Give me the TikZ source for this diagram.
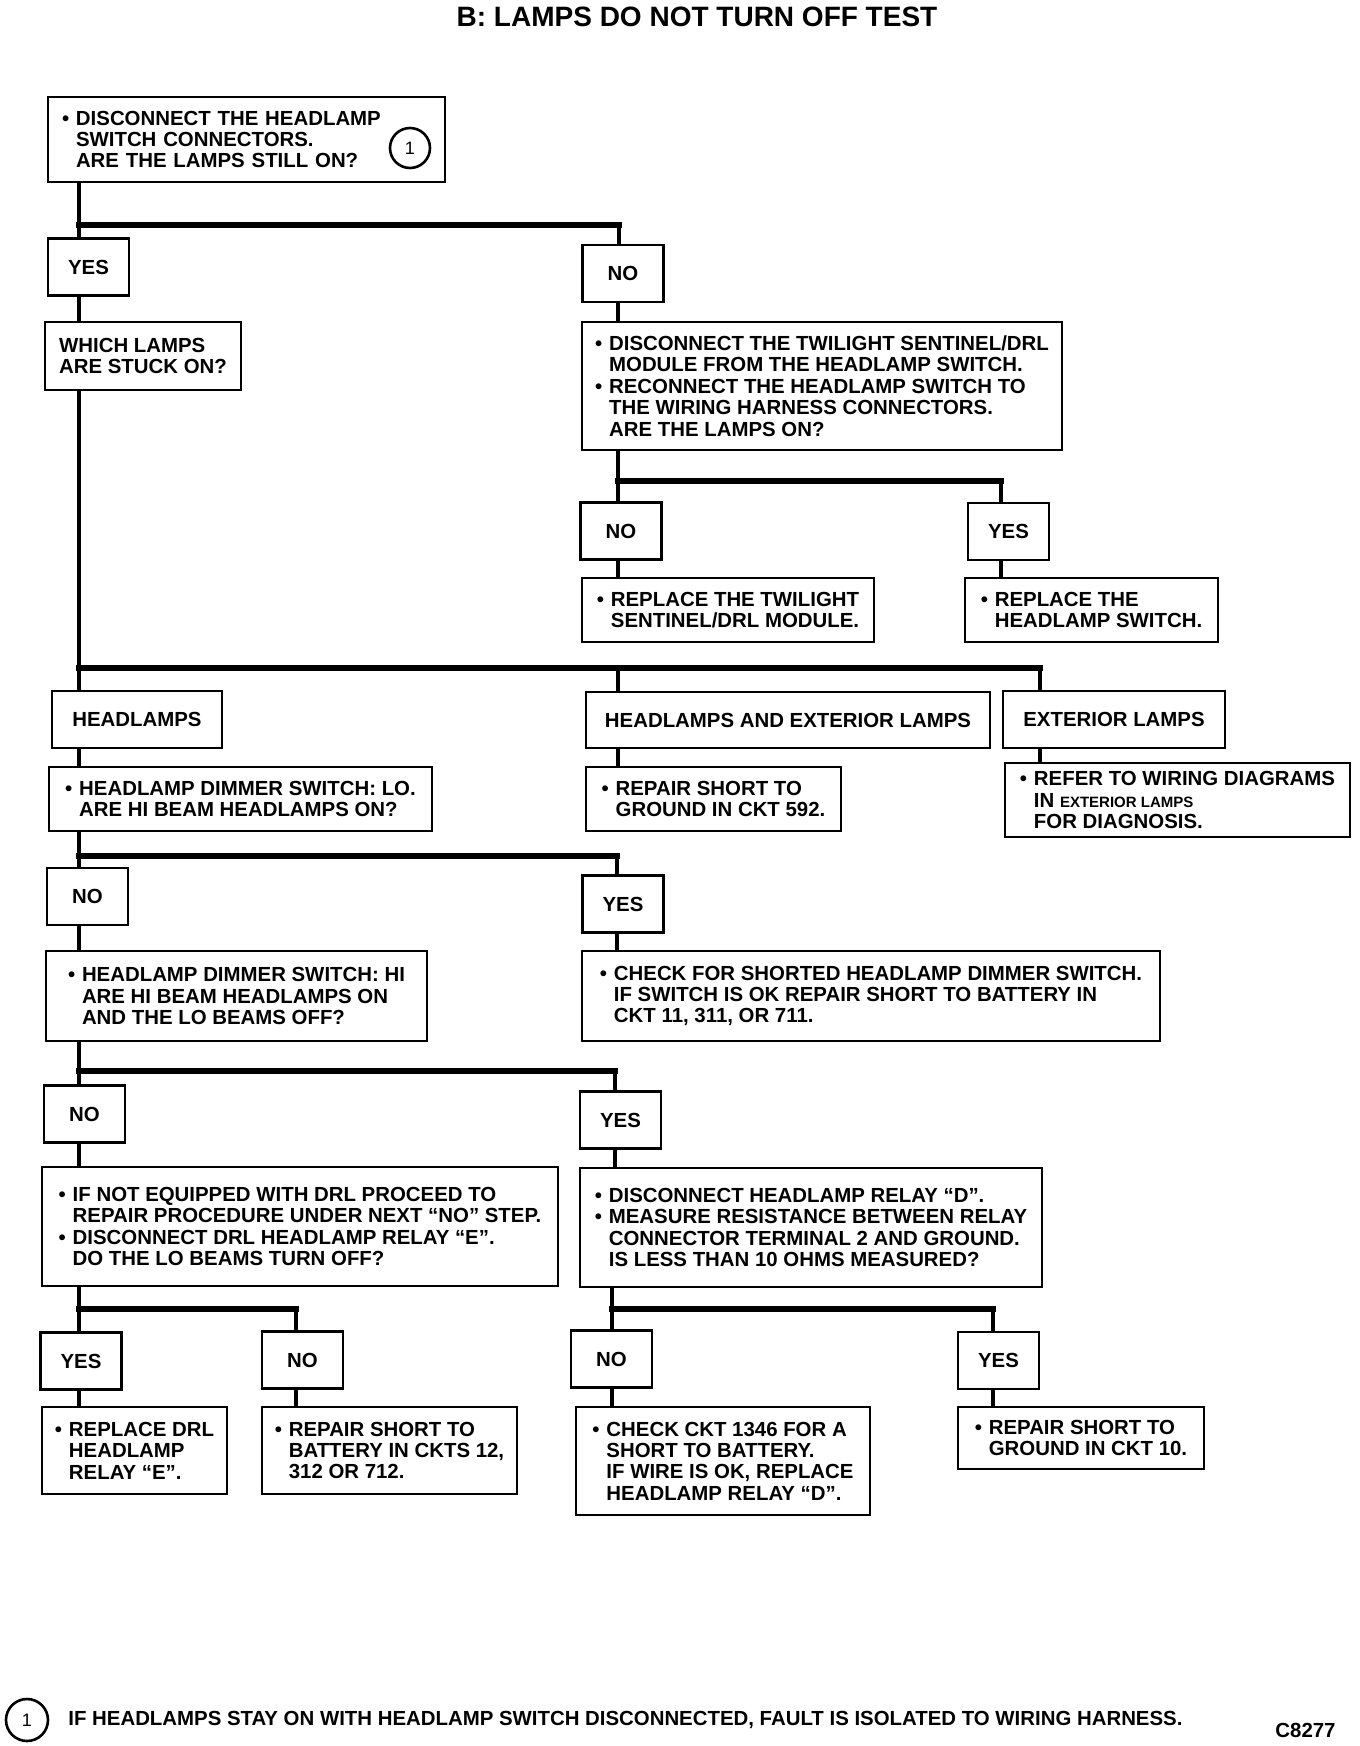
\documentclass[tikz,border=0pt]{standalone}
\usepackage{fontspec}
\setmainfont{Liberation Sans}

\newcommand{\bul}{\makebox[7pt][l]{\textbullet}}
\newcommand{\ind}{\hspace*{7pt}}

\tikzset{
	box/.style={draw, line width=1.3pt, inner xsep=6pt, inner ysep=0pt, align=left, font=\fontsize{10.2}{10.7}\selectfont\bfseries},
	ans/.style={draw, line width=1.3pt, minimum width=40.5pt, minimum height=28.5pt, inner sep=0pt, font=\fontsize{10.2}{10.7}\selectfont\bfseries},
	link/.style={line width=2.4pt},
	bar/.style={line width=3.4pt, line cap=rect},
}

\begin{document}
\begin{tikzpicture}[x=0.5pt, y=-0.5pt]
	\useasboundingbox (0, 0) rectangle (1360, 1746);

	\node[font=\fontsize{14}{16}\selectfont\bfseries] (title) at (697, 17) {B: LAMPS DO NOT TURN OFF TEST};

	% first question
	\node[box, text width=184.5pt, minimum width=198.5pt, minimum height=42.5pt] (q1) at (246.5, 139.5) {\bul DISCONNECT THE HEADLAMP\\ \ind SWITCH CONNECTORS.\\ \ind ARE THE LAMPS STILL ON?};
	\node[draw, circle, line width=1.3pt, minimum size=20pt, inner sep=0pt, font=\fontsize{9}{9}\selectfont] (c1) at (410, 148) {1};
	\node[ans] (yes1) at (88.5, 267) {YES};
	\node[ans] (no1) at (623, 273.5) {NO};
	\node[box, minimum width=98pt, minimum height=34pt] (which) at (143, 356) {WHICH LAMPS\\ARE STUCK ON?};
	\node[box, minimum width=240pt, minimum height=64pt] (twi) at (822, 386) {\bul DISCONNECT THE TWILIGHT SENTINEL/DRL\\ \ind MODULE FROM THE HEADLAMP SWITCH.\\ \bul RECONNECT THE HEADLAMP SWITCH TO\\ \ind THE WIRING HARNESS CONNECTORS.\\ \ind ARE THE LAMPS ON?};
	\node[ans] (no2) at (621, 531) {NO};
	\node[ans] (yes2) at (1008.5, 531.5) {YES};
	\node[box, minimum width=146pt, minimum height=32pt] (repltwi) at (728, 610) {\bul REPLACE THE TWILIGHT\\ \ind SENTINEL/DRL MODULE.};
	\node[box, minimum width=126.5pt, minimum height=32pt] (replsw) at (1091.5, 610) {\bul REPLACE THE\\ \ind HEADLAMP SWITCH.};

	% which lamps
	\node[box, align=center, minimum width=85pt, minimum height=28.5pt] (hl) at (137, 719.5) {HEADLAMPS};
	\node[box, align=center, minimum width=202pt, minimum height=28pt] (he) at (788, 720) {HEADLAMPS AND EXTERIOR LAMPS};
	\node[box, align=center, minimum width=111pt, minimum height=28.5pt] (ext) at (1114, 719.5) {EXTERIOR LAMPS};
	\node[box, minimum width=191.5pt, minimum height=32pt] (dimlo) at (240.5, 799) {\bul HEADLAMP DIMMER SWITCH: LO.\\ \ind ARE HI BEAM HEADLAMPS ON?};
	\node[box, minimum width=127.5pt, minimum height=32pt] (gnd592) at (713.5, 799) {\bul REPAIR SHORT TO\\ \ind GROUND IN CKT 592.};
	\node[box, minimum width=172.5pt, minimum height=37pt] (refer) at (1177.5, 800) {\bul REFER TO WIRING DIAGRAMS\\ \ind IN {\fontsize{7.5}{10.7}\selectfont EXTERIOR LAMPS}\\ \ind FOR DIAGNOSIS.};

	% dimmer switch
	\node[ans] (nob) at (87.5, 896.5) {NO};
	\node[ans] (yesb) at (623, 904) {YES};
	\node[box, minimum width=190.5pt, minimum height=45pt] (dimhi) at (236.5, 996) {\bul HEADLAMP DIMMER SWITCH: HI\\ \ind ARE HI BEAM HEADLAMPS ON\\ \ind AND THE LO BEAMS OFF?};
	\node[box, minimum width=289pt, minimum height=45pt] (check) at (871, 996) {\bul CHECK FOR SHORTED HEADLAMP DIMMER SWITCH.\\ \ind IF SWITCH IS OK REPAIR SHORT TO BATTERY IN\\ \ind CKT 11, 311, OR 711.};
	\node[ans] (noc) at (84.5, 1114) {NO};
	\node[ans] (yesc) at (620.5, 1120) {YES};
	\node[box, minimum width=258pt, minimum height=59.5pt] (noteq) at (300, 1226.5) {\bul IF NOT EQUIPPED WITH DRL PROCEED TO\\ \ind REPAIR PROCEDURE UNDER NEXT “NO” STEP.\\ \bul DISCONNECT DRL HEADLAMP RELAY “E”.\\ \ind DO THE LO BEAMS TURN OFF?};
	\node[box, minimum width=231pt, minimum height=59.5pt] (reld) at (811, 1227.5) {\bul DISCONNECT HEADLAMP RELAY “D”.\\ \bul MEASURE RESISTANCE BETWEEN RELAY\\ \ind CONNECTOR TERMINAL 2 AND GROUND.\\ \ind IS LESS THAN 10 OHMS MEASURED?};

	% relays
	\node[ans] (yesd) at (81, 1361) {YES};
	\node[ans] (nod) at (302.5, 1360) {NO};
	\node[ans] (nod2) at (611.5, 1359) {NO};
	\node[ans] (yesd2) at (998.5, 1360.5) {YES};
	\node[box, minimum width=92.5pt, minimum height=43.5pt] (repldrl) at (134.5, 1450.5) {\bul REPLACE DRL\\ \ind HEADLAMP\\ \ind RELAY “E”.};
	\node[box, minimum width=127.5pt, minimum height=43.5pt] (batt) at (389.5, 1450.5) {\bul REPAIR SHORT TO\\ \ind BATTERY IN CKTS 12,\\ \ind 312 OR 712.};
	\node[box, minimum width=147pt, minimum height=54pt] (ckt) at (723, 1461) {\bul CHECK CKT 1346 FOR A\\ \ind SHORT TO BATTERY.\\ \ind IF WIRE IS OK, REPLACE\\ \ind HEADLAMP RELAY “D”.};
	\node[box, minimum width=123pt, minimum height=31pt] (gnd10) at (1081, 1438) {\bul REPAIR SHORT TO\\ \ind GROUND IN CKT 10.};

	% footnote
	\node[draw, circle, line width=1.3pt, minimum size=21pt, inner sep=0pt, font=\fontsize{9}{9}\selectfont] (c2) at (27, 1720) {1};
	\node[anchor=west, inner sep=0pt, font=\fontsize{10.2}{11}\selectfont\bfseries] (note) at (68, 1720) {IF HEADLAMPS STAY ON WITH HEADLAMP SWITCH DISCONNECTED, FAULT IS ISOLATED TO WIRING HARNESS.};
	\node[font=\fontsize{10.2}{11}\selectfont\bfseries] (code) at (1305.5, 1730) {C8277};

	% branch points
	\coordinate (j1) at (79, 225);
	\coordinate (j1r) at (619, 225);
	\coordinate (j2) at (618, 481);
	\coordinate (j2r) at (1001, 481);
	\coordinate (j3) at (79, 668);
	\coordinate (j3m) at (618, 668);
	\coordinate (j3r) at (1040, 668);
	\coordinate (j4) at (79, 856);
	\coordinate (j4r) at (617, 856);
	\coordinate (j5) at (79, 1071);
	\coordinate (j5r) at (615, 1071);
	\coordinate (j6) at (79, 1309);
	\coordinate (j6r) at (296, 1309);
	\coordinate (j7) at (612, 1309);
	\coordinate (j7r) at (993, 1309);

	\draw[bar] (j1) -- (j1r);
	\draw[bar] (j2) -- (j2r);
	\draw[bar] (j3) -- (j3r);
	\draw[bar] (j4) -- (j4r);
	\draw[bar] (j5) -- (j5r);
	\draw[bar] (j6) -- (j6r);
	\draw[bar] (j7) -- (j7r);

	% left column
	\draw[link] (q1.south -| j1) -- (yes1.north -| j1);
	\draw[link] (yes1.south -| j1) -- (which.north -| j1);
	\draw[link] (which.south -| j1) -- (hl.north -| j1);
	\draw[link] (hl.south -| j1) -- (dimlo.north -| j1);
	\draw[link] (dimlo.south -| j1) -- (nob.north -| j1);
	\draw[link] (nob.south -| j1) -- (dimhi.north -| j1);
	\draw[link] (dimhi.south -| j1) -- (noc.north -| j1);
	\draw[link] (noc.south -| j1) -- (noteq.north -| j1);
	\draw[link] (noteq.south -| j1) -- (yesd.north -| j1);
	\draw[link] (yesd.south -| j1) -- (repldrl.north -| j1);
	\draw[link] (j6r) -- (nod.north -| j6r);
	\draw[link] (nod.south -| j6r) -- (batt.north -| j6r);

	% right column
	\draw[link] (j1r) -- (no1.north -| j1r);
	\draw[link] (no1.south -| j2) -- (twi.north -| j2);
	\draw[link] (twi.south -| j2) -- (no2.north -| j2);
	\draw[link] (j2r) -- (yes2.north -| j2r);
	\draw[link] (no2.south -| j2) -- (repltwi.north -| j2);
	\draw[link] (yes2.south -| j2r) -- (replsw.north -| j2r);
	\draw[link] (j3m) -- (he.north -| j3m);
	\draw[link] (j3r) -- (ext.north -| j3r);
	\draw[link] (he.south -| j3m) -- (gnd592.north -| j3m);
	\draw[link] (ext.south -| j3r) -- (refer.north -| j3r);
	\draw[link] (j4r) -- (yesb.north -| j4r);
	\draw[link] (yesb.south -| j4r) -- (check.north -| j4r);
	\draw[link] (j5r) -- (yesc.north -| j5r);
	\draw[link] (yesc.south -| j5r) -- (reld.north -| j5r);
	\draw[link] (reld.south -| j7) -- (nod2.north -| j7);
	\draw[link] (j7r) -- (yesd2.north -| j7r);
	\draw[link] (nod2.south -| j7) -- (ckt.north -| j7);
	\draw[link] (yesd2.south -| j7r) -- (gnd10.north -| j7r);
\end{tikzpicture}
\end{document}
